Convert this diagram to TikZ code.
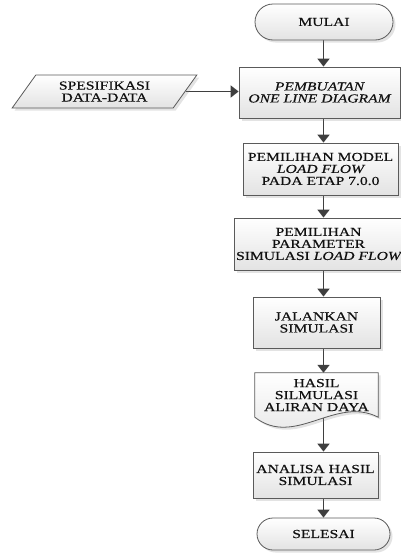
\documentclass[tikz,border=0pt]{standalone}
\usepackage{fontspec}
\setmainfont{Liberation Serif}[FakeStretch=1.28, FakeBold=0.4]
\usetikzlibrary{shapes.geometric,shapes.misc,shadows,arrows.meta,calc}
\pgfdeclarelayer{arrows}
\pgfdeclarelayer{bg}
\pgfsetlayers{arrows,bg,main}
\definecolor{edge}{HTML}{5A5A5A}
\definecolor{arr}{HTML}{3F3F3F}
\definecolor{txt}{HTML}{111111}
\newcommand{\ital}[1]{{\itshape #1}}
\tikzset{
  lbl/.style={text=txt, font=\fontsize{12.2}{12}\selectfont, align=center, inner sep=0pt},
  shp/.style={lbl, draw=edge, line width=0.8pt, top color=white, bottom color=black!11,
    drop shadow={shadow xshift=2.5pt, shadow yshift=-2.5pt, opacity=0.22}},
  box/.style={shp, rectangle},
  term/.style={shp, rounded rectangle},
  io/.style={shp, trapezium, trapezium left angle=52, trapezium right angle=128, trapezium stretches=true},
  conn/.style={draw=arr, line width=1.8pt, -{Triangle[width=12pt,length=8pt]}},
}
\begin{document}
\begin{tikzpicture}[x=1pt,y=-1pt]
\useasboundingbox (0,0) rectangle (401,560);
\node[term, minimum width=138, minimum height=36] (mulai) at (324,22) {MULAI};
\node[box, minimum width=161, minimum height=51] (buat) at (319.5,92.5) {\ital{PEMBUATAN}\\\ital{ONE LINE DIAGRAM}};
\node[io, minimum width=185, minimum height=33] (spek) at (104.5,91.5) {SPESIFIKASI\\DATA-DATA};
\node[box, minimum width=155, minimum height=52] (model) at (320.5,169) {PEMILIHAN MODEL\\\ital{LOAD FLOW}\\PADA ETAP 7.0.0};
\node[box, minimum width=168, minimum height=52] (param) at (318.5,244) {PEMILIHAN\\PARAMETER\\SIMULASI \ital{LOAD FLOW}};
\node[box, minimum width=127, minimum height=51] (jalan) at (316.5,322.5) {JALANKAN\\SIMULASI};
\node[lbl, minimum width=123, minimum height=44] (hasil) at (316.5,395) {HASIL\\SILMULASI\\ALIRAN DAYA};
\begin{pgfonlayer}{bg}
\draw[draw=edge, line width=0.8pt, top color=white, bottom color=black!11,
    drop shadow={shadow xshift=2.5pt, shadow yshift=-2.5pt, opacity=0.22}]
  (hasil.north west) -- (hasil.north east) -- (hasil.south east)
  .. controls ($(hasil.south east)+(-43,-22)$) and ($(hasil.south west)+(40,31)$) .. (hasil.south west) -- cycle;
\end{pgfonlayer}
\node[box, minimum width=125, minimum height=46] (anal) at (315.5,475) {ANALISA HASIL\\SIMULASI};
\node[term, minimum width=133, minimum height=32] (sele) at (323.5,534) {SELESAI};
\coordinate (ax) at (323.5,0);
\begin{pgfonlayer}{arrows}
\draw[conn] (mulai.south -| ax) -- (buat.north -| ax);
\draw[conn] (spek.east) -- (spek.east -| buat.west);
\draw[conn] (buat.south -| ax) -- (model.north -| ax);
\draw[conn] (model.south -| ax) -- (param.north -| ax);
\draw[conn] (param.south -| ax) -- (jalan.north -| ax);
\draw[conn] (jalan.south -| ax) -- (hasil.north -| ax);
\draw[conn] (hasil.south -| ax) -- (anal.north -| ax);
\draw[conn] (anal.south -| ax) -- (sele.north -| ax);
\end{pgfonlayer}
\end{tikzpicture}
\end{document}
